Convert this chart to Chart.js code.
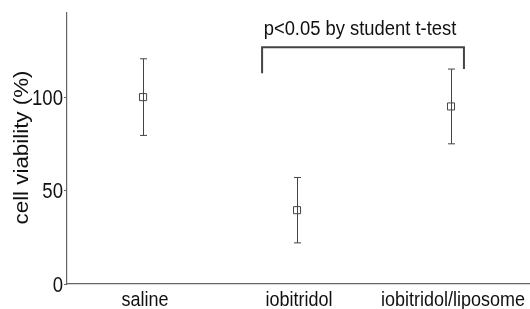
<!DOCTYPE html>
<html>
<head>
<meta charset="utf-8">
<script src="https://cdn.jsdelivr.net/npm/chart.js"></script>
<style>
  body { margin: 0; background: #fff; }
  #wrap { width: 530px; height: 309px; }
</style>
</head>
<body>
<div id="wrap"><canvas id="chart"></canvas></div>
<script>
// data
const categories = ['saline', 'iobitridol', 'iobitridol/liposome'];
const viability = [100, 39.5, 95];
const viabilityErr = [20.5, 17.5, 20];
const yTicks = [0, 50, 100];
const yTitle = 'cell viability (%)';
// significance bracket between groups 1 and 2 (category units / %)
const bracketX = [0.773, 2.084];
const bracketY = [112.8, 126.7, 115];
const bracketLabel = 'p<0.05 by student t-test';

const ink = '#444';
const textColor = '#111';
const fontFamily = '"Liberation Sans", Arial, sans-serif';
const stretch = 1.14; // the original glyphs look a bit taller than Arial

// draw a text with a slight stretch along one direction
function stretchedText(ctx, txt, x, y, size, align, baseline, rotate) {
  ctx.save();
  ctx.translate(x, y);
  if (rotate) {
    ctx.rotate(-Math.PI / 2);
    ctx.scale(stretch, 1);
  } else {
    ctx.scale(1, stretch);
  }
  ctx.font = size + 'px ' + fontFamily;
  ctx.fillStyle = textColor;
  ctx.textAlign = align;
  ctx.textBaseline = baseline;
  ctx.fillText(txt, 0, 0);
  ctx.restore();
}

const errorBars = {
  id: 'errorBars',
  beforeDatasetsDraw(chart) {
    const { ctx, scales: { x, y } } = chart;
    ctx.save();
    ctx.strokeStyle = ink;
    ctx.lineWidth = 1;
    viability.forEach((v, i) => {
      const px = Math.round(x.getPixelForValue(i)) + 0.5;
      const top = y.getPixelForValue(v + viabilityErr[i]);
      const bot = y.getPixelForValue(v - viabilityErr[i]);
      ctx.beginPath();
      ctx.moveTo(px, top); ctx.lineTo(px, bot);
      ctx.moveTo(px - 3.5, top); ctx.lineTo(px + 3.5, top);
      ctx.moveTo(px - 3.5, bot); ctx.lineTo(px + 3.5, bot);
      ctx.stroke();
    });
    ctx.restore();
  }
};

const labels = {
  id: 'labels',
  afterDraw(chart) {
    const { ctx, chartArea, scales: { x, y } } = chart;
    categories.forEach((c, i) => {
      stretchedText(ctx, c, x.getPixelForValue(i) + 2, chartArea.bottom + 22, 18, 'center', 'alphabetic');
    });
    yTicks.forEach(v => {
      stretchedText(ctx, String(v), chartArea.left - 4, y.getPixelForValue(v) + 7.5, 18.6, 'right', 'alphabetic');
    });
    stretchedText(ctx, yTitle, 27.5, (chartArea.top + chartArea.bottom) / 2 - 1, 19.6, 'center', 'alphabetic', true);

    const x0 = x.getPixelForValue(bracketX[0]);
    const x1 = x.getPixelForValue(bracketX[1]);
    const yl = y.getPixelForValue(bracketY[0]);
    const yt = y.getPixelForValue(bracketY[1]);
    const yr = y.getPixelForValue(bracketY[2]);
    ctx.save();
    ctx.strokeStyle = ink;
    ctx.lineWidth = 2;
    ctx.beginPath();
    ctx.moveTo(x0, yl); ctx.lineTo(x0, yt); ctx.lineTo(x1, yt); ctx.lineTo(x1, yr);
    ctx.stroke();
    ctx.restore();
    stretchedText(ctx, bracketLabel, (x0 + x1) / 2 - 3, yt - 12, 18.4, 'center', 'alphabetic');
  }
};

new Chart(document.getElementById('chart'), {
  type: 'scatter',
  data: {
    datasets: [{
      data: viability.map((v, i) => ({ x: i, y: v })),
      pointStyle: 'rect',
      pointRadius: 5,
      pointHoverRadius: 5,
      borderWidth: 1,
      borderColor: ink,
      backgroundColor: 'rgba(0,0,0,0)'
    }]
  },
  options: {
    responsive: true,
    maintainAspectRatio: false,
    animation: false,
    layout: { autoPadding: false, padding: { top: 13, right: 0, left: 0, bottom: 0 } },
    plugins: { legend: { display: false }, tooltip: { enabled: false } },
    scales: {
      x: {
        type: 'linear',
        min: -0.494,
        max: 2.513,
        afterBuildTicks: s => { s.ticks = categories.map((c, i) => ({ value: i })); },
        afterFit: s => { s.height = 25; },
        grid: { display: false, drawTicks: false },
        border: { color: '#666', width: 1.2 },
        ticks: { display: false }
      },
      y: {
        min: 0,
        max: 145,
        afterBuildTicks: s => { s.ticks = yTicks.map(v => ({ value: v })); },
        afterFit: s => { s.width = 67; },
        grid: { drawOnChartArea: false, tickLength: 3, color: '#666' },
        border: { color: '#666', width: 1.2 },
        ticks: { display: false }
      }
    }
  },
  plugins: [errorBars, labels]
});
</script>
</body>
</html>
